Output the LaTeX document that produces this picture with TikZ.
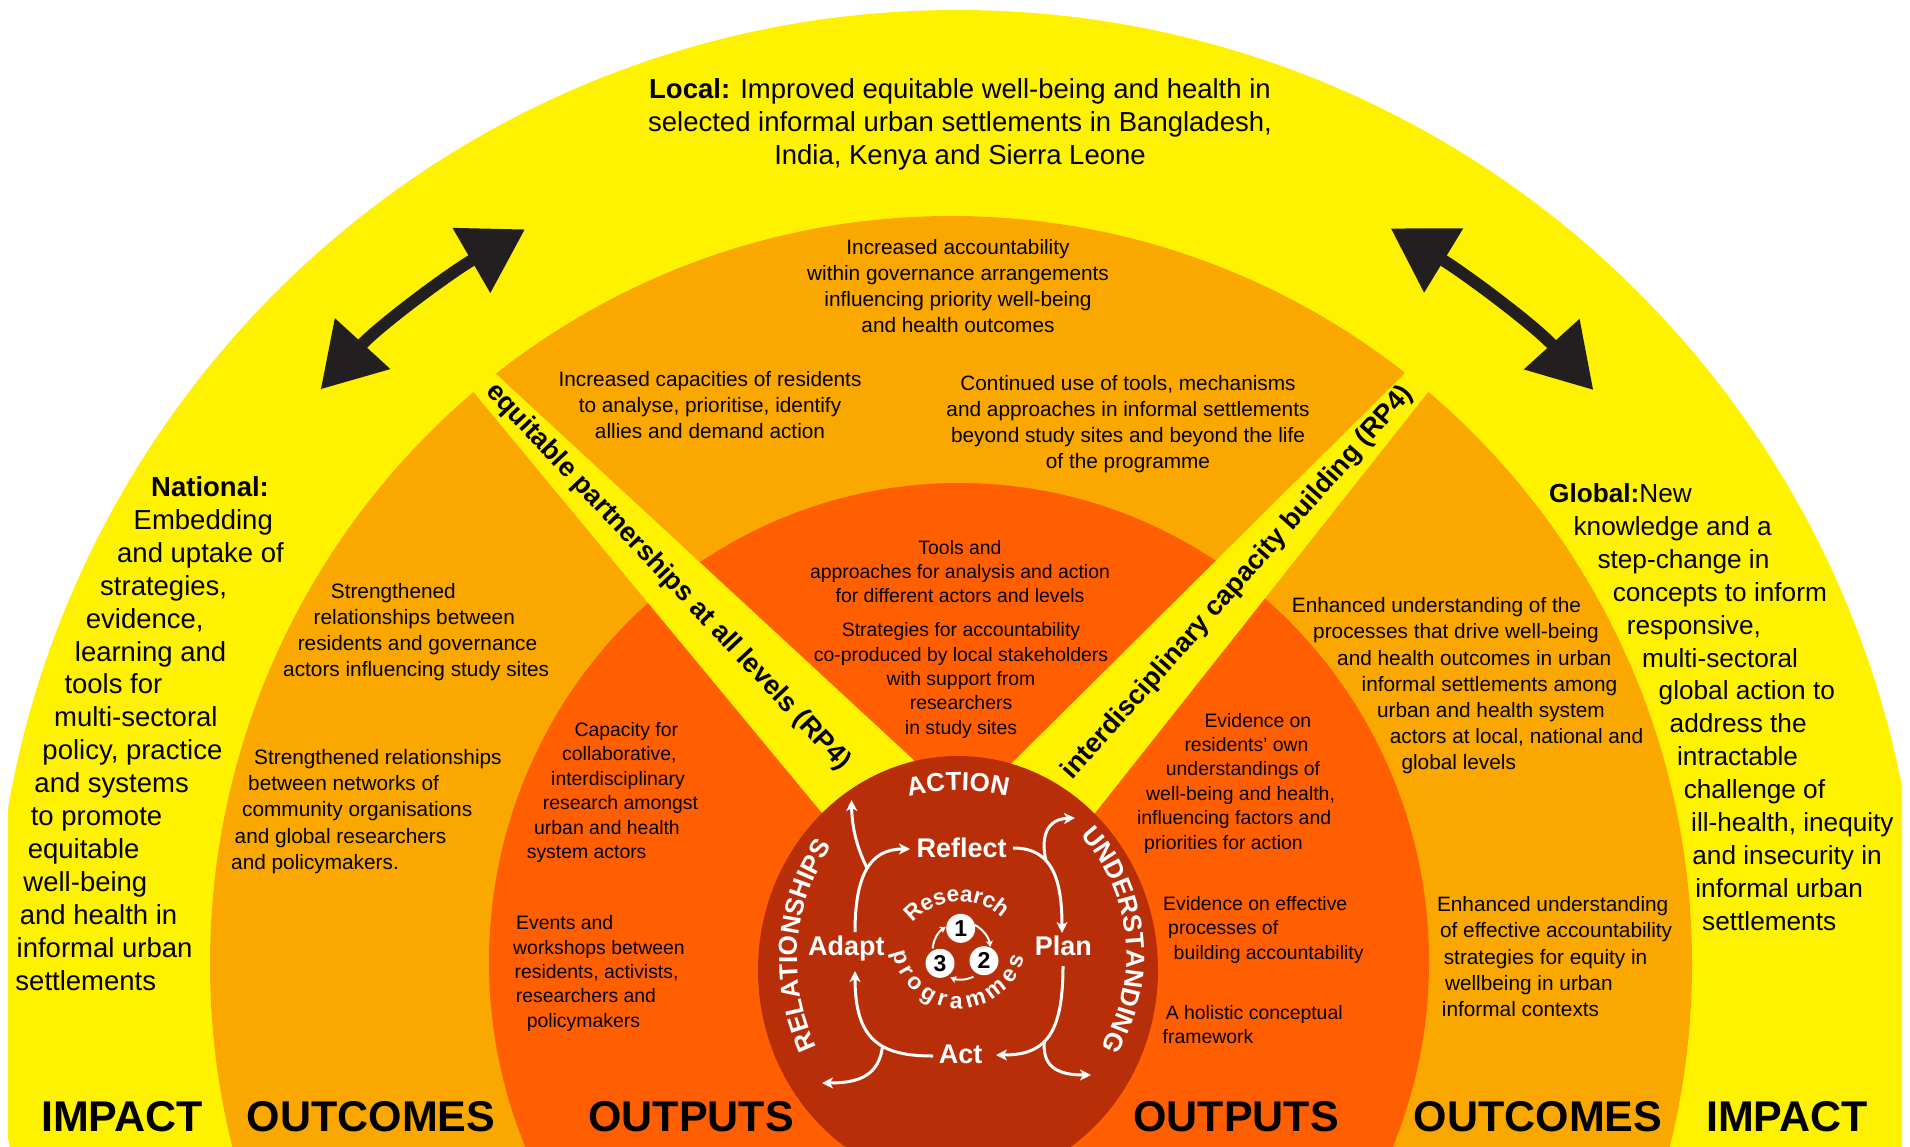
\documentclass[tikz,border=0pt]{standalone}
\usepackage{fontspec}
\setmainfont{Liberation Sans}
\usetikzlibrary{arrows.meta,decorations.text}
\definecolor{cyel}{RGB}{255,242,0}
\definecolor{cout}{RGB}{250,168,0}
\definecolor{cput}{RGB}{255,95,0}
\definecolor{ccore}{RGB}{183,46,8}
\definecolor{carr}{RGB}{35,31,32}
\tikzset{
  tbody/.style={font=\fontsize{20.8}{26.2}\selectfont, align=center, inner sep=0pt},
  tbodyl/.style={font=\fontsize{20.8}{26.2}\selectfont, align=left, inner sep=0pt, anchor=west},
  toutp/.style={font=\fontsize{19.4}{24.4}\selectfont, align=center, inner sep=0pt},
  toutpl/.style={font=\fontsize{19.4}{24.4}\selectfont, align=left, inner sep=0pt, anchor=west},
  tbig/.style={font=\fontsize{27.5}{32.9}\selectfont, inner sep=0pt},
  tbigr/.style={font=\fontsize{26.2}{32.9}\selectfont, inner sep=0pt},
  tsect/.style={font=\fontsize{43}{50}\selectfont\bfseries, inner sep=0pt, anchor=base},
  tcore/.style={font=\fontsize{27}{30}\selectfont\bfseries, text=white, inner sep=0pt, anchor=base},
  tinner/.style={font=\fontsize{23}{23}\selectfont\bfseries, text=white, inner sep=0pt, anchor=base},
  twedge/.style={font=\fontsize{27}{30}\selectfont\bfseries, inner sep=0pt},
  tnum/.style={circle, fill=white, inner sep=0pt, minimum size=29pt, font=\fontsize{23}{23}\selectfont\bfseries},
  bigarrow/.style={carr, line width=12pt, {Triangle[length=62pt,width=72pt]}-{Triangle[length=62pt,width=72pt]}},
  tcyc/.style={white, line width=3pt, -{Stealth[length=11pt,width=11pt,inset=3pt]}},
  smallcyc/.style={white, line width=2pt, -{Stealth[length=6pt,width=7pt,inset=1.5pt]}},
}
\begin{document}
\begin{tikzpicture}[x=1pt,y=-1pt]
\useasboundingbox (0,0) rectangle (1910,1146);
\begin{scope}
  \clip (0,0) rectangle (1910,1146);
  \fill[white] (0,0) rectangle (1910,1146);
  \begin{scope}
    \clip (8,0) rectangle (1902,1146);
    \fill[cyel] (957,973) circle[radius=963];
  \end{scope}
  \fill[cout] (951,964) ellipse[x radius=741, y radius=748];
  \fill[cput] (959,962) ellipse[x radius=470, y radius=479];
  \begin{scope}
    \clip (957,973) circle[radius=963];
    \fill[cyel] (337,227) -- (951.7,795.2) -- (860.9,860) -- cycle;
    \fill[cyel] (1582,197.5) -- (977.7,797) -- (1057.8,860) -- cycle;
  \end{scope}
  \fill[ccore] (958,970) ellipse[x radius=200, y radius=214];
\end{scope}

% big black double arrows
\coordinate (la1) at (320.7,389.3);
\coordinate (la2) at (525,229.3);
\draw[bigarrow] (la1) .. controls (379.5,325.2) and (449.8,273) .. (la2);
\coordinate (ra1) at (1390.7,228.3);
\coordinate (ra2) at (1593.3,390);
\draw[bigarrow] (ra1) .. controls (1464.2,273) and (1534.5,325.2) .. (ra2);

% impact texts
\node[tbig, align=center] (local) at (960,124) {\textbf{Local:} Improved equitable well-being and health in\\selected informal urban settlements in Bangladesh,\\India, Kenya and Sierra Leone};

\node[tbig, align=left, anchor=west] (national) at (15.3,733.5) {\hspace*{135.7pt}\textbf{National:}\\\hspace*{118.2pt}Embedding\\\hspace*{101.7pt}and uptake of\\\hspace*{84.7pt}strategies,\\\hspace*{70.4pt}evidence,\\\hspace*{59.4pt}learning and\\\hspace*{49pt}tools for\\\hspace*{38.6pt}multi-sectoral\\\hspace*{27pt}policy, practice\\\hspace*{19pt}and systems\\\hspace*{15.3pt}to promote\\\hspace*{12.3pt}equitable\\\hspace*{8pt}well-being\\\hspace*{4.3pt}and health in\\\hspace*{1.2pt}informal urban\\settlements};

\node[tbigr, align=left, anchor=west] (global) at (1548.9,707) {\textbf{Global:}New\\\hspace*{24.5pt}knowledge and a\\\hspace*{48.4pt}step-change in\\\hspace*{63.7pt}concepts to inform\\\hspace*{77.8pt}responsive,\\\hspace*{93.1pt}multi-sectoral\\\hspace*{109.6pt}global action to\\\hspace*{120.6pt}address the\\\hspace*{128pt}intractable\\\hspace*{134.7pt}challenge of\\\hspace*{142.1pt}ill-health, inequity\\\hspace*{143.3pt}and insecurity in\\\hspace*{146.3pt}informal urban\\\hspace*{153.1pt}settlements};

% outcomes texts
\node[tbody] (acc) at (958,286) {Increased accountability\\within governance arrangements\\influencing priority well-being\\and health outcomes};
\node[tbody] (capres) at (710,405) {Increased capacities of residents\\to analyse, prioritise, identify\\allies and demand action};
\node[tbody] (contuse) at (1128,424) {Continued use of tools, mechanisms\\and approaches in informal settlements\\beyond study sites and beyond the life\\of the programme};
\node[tbodyl] (strrel1) at (283,632) {\hspace*{47.7pt}Strengthened\\\hspace*{30.5pt}relationships between\\\hspace*{14.6pt}residents and governance\\actors influencing study sites};
\node[tbodyl] (strrel2) at (231,811.6) {\hspace*{23pt}Strengthened relationships\\\hspace*{17pt}between networks of\\\hspace*{11pt}community organisations\\\hspace*{3.5pt}and global researchers\\and policymakers.};
\node[tbodyl] (enh1) at (1291.7,686) {Enhanced understanding of the\\\hspace*{21.3pt}processes that drive well-being\\\hspace*{45.3pt}and health outcomes in urban\\\hspace*{69.8pt}informal settlements among\\\hspace*{85.1pt}urban and health system\\\hspace*{98pt}actors at local, national and\\\hspace*{109.6pt}global levels};
\node[tbodyl] (enh2) at (1436.8,956.7) {Enhanced understanding\\\hspace*{3.1pt}of effective accountability\\\hspace*{6.8pt}strategies for equity in\\\hspace*{8pt}wellbeing in urban\\\hspace*{4.9pt}informal contexts};

% outputs texts
\node[toutp] (tools) at (960,571.5) {Tools and\\approaches for analysis and action\\for different actors and levels};
\node[toutp] (strat) at (961,680.5) {Strategies for accountability\\co-produced by local stakeholders\\with support from\\researchers\\in study sites};
\node[toutpl] (capcol) at (526.6,792.5) {\hspace*{47.8pt}Capacity for\\\hspace*{35.4pt}collaborative,\\\hspace*{24.4pt}interdisciplinary\\\hspace*{16pt}research amongst\\\hspace*{7.4pt}urban and health\\system actors};
\node[toutpl] (events) at (513,973.5) {\hspace*{3pt}Events and\\workshops between\\\hspace*{1.4pt}residents, activists,\\\hspace*{2.6pt}researchers and\\\hspace*{13.6pt}policymakers};
\node[toutpl] (evid1) at (1136.8,783) {\hspace*{67.5pt}Evidence on\\\hspace*{47.5pt}residents’ own\\\hspace*{28.9pt}understandings of\\\hspace*{9.2pt}well-being and health,\\influencing factors and\\\hspace*{7.2pt}priorities for action};
\node[toutpl] (evid2) at (1163,929.7) {Evidence on effective\\\hspace*{5pt}processes of\\\hspace*{10.5pt}building accountability};
\node[toutpl] (holistic) at (1162.5,1024.3) {\hspace*{3.1pt}A holistic conceptual\\framework};

% wedge texts
\node[twedge, rotate=-46.8] (wedgel) at (668,577) {equitable partnerships at all levels (RP4)};
\node[twedge, rotate=48.5] (wedger) at (1238,583) {interdisciplinary capacity building (RP4)};

% section labels
\node[tsect] (impl) at (122,1131.7) {IMPACT};
\node[tsect] (outcl) at (371,1131.7) {OUTCOMES};
\node[tsect] (outpl) at (691,1131.7) {OUTPUTS};
\node[tsect] (outpr) at (1236,1131.7) {OUTPUTS};
\node[tsect] (outcr) at (1538,1131.7) {OUTCOMES};
\node[tsect] (impr) at (1787,1131.7) {IMPACT};

% core arc texts
\path[decorate, decoration={text along path, text color=white, text align=center,
  text={|\fontsize{26}{26}\selectfont\bfseries|ACTION}}]
  (854,818.6) arc[start angle=-120, end angle=-60, radius=208];
\path[decorate, decoration={text along path, text color=white, text align=center,
  text={|\fontsize{26}{26}\selectfont\bfseries|RELATIONSHIPS}}]
  (845.4,1090.8) arc[start angle=139.4, end angle=229.4, radius=201];
\path[decorate, decoration={text along path, text color=white, text align=center,
  text={|\fontsize{26}{26}\selectfont\bfseries|UNDERSTANDING}}]
  (1062.0,818.6) arc[start angle=-50.6, end angle=39.4, radius=176.5];

% core cycle labels
\node[tcore] (reflect) at (961.7,857.3) {Reflect};
\node[tcore] (adapt) at (846.3,955) {Adapt};
\node[tcore] (plan) at (1063.3,955) {Plan};
\node[tcore] (act) at (960.7,1063.3) {Act};

% cycle arrows
\coordinate (ar0) at (855,932);   \coordinate (ar1) at (910,849);
\draw[tcyc] (ar0) .. controls (855,875) and (870,849) .. (ar1);
\coordinate (br0) at (867.5,869); \coordinate (br1) at (851.5,800);
\draw[tcyc] (br0) .. controls (858,850) and (852,830) .. (br1);
\coordinate (rp0) at (1013,848);  \coordinate (rp1) at (1062,933);
\draw[tcyc] (rp0) .. controls (1050,848) and (1062,875) .. (rp1);
\coordinate (bp0) at (1046,861);  \coordinate (bp1) at (1075,818);
\draw[tcyc] (bp0) .. controls (1040,835) and (1048,819) .. (bp1);
\coordinate (pa0) at (1063,966);  \coordinate (pa1) at (996,1055);
\draw[tcyc] (pa0) .. controls (1063,1035) and (1045,1055) .. (pa1);
\coordinate (bq0) at (1044.4,1040.3); \coordinate (bq1) at (1091,1075);
\draw[tcyc] (bq0) .. controls (1042,1065) and (1055,1075) .. (bq1);
\coordinate (aa0) at (933,1056);  \coordinate (aa1) at (855,971);
\draw[tcyc] (aa0) .. controls (880,1056) and (855,1040) .. (aa1);
\coordinate (ba0) at (882.6,1045.9); \coordinate (ba1) at (822,1083);
\draw[tcyc] (ba0) .. controls (879,1075) and (860,1083) .. (ba1);

% inner research programmes
\foreach \ch/\ang [count=\k] in {R/-132.2,e/-119.0,s/-107.5,e/-96.0,a/-84.5,r/-74.75,c/-65.0,h/-52.9}
  \node[tinner, font=\fontsize{22.5}{22.5}\selectfont\bfseries, rotate={-90-(\ang)}] (res\k) at ([shift={(\ang:62)}]960,963.4) {\ch};
\foreach \ch/\ang [count=\k] in {p/164,r/150,o/136.1,g/119.9,r/106,a/92.5,m/74.2,m/52.7,e/34.4,s/19.3}
  \node[tinner, rotate={90-(\ang)}] (prg\k) at ([shift={(\ang:67.5)}]959,941) {\ch};

\draw[smallcyc] ([shift={(-62:29.5)}]961,951) arc[start angle=-62, end angle=-8, radius=29.5];
\draw[smallcyc] ([shift={(64:28.5)}]961,951) arc[start angle=64, end angle=112, radius=28.5];
\draw[smallcyc] ([shift={(185:28.5)}]961,951) arc[start angle=185, end angle=238, radius=28.5];
\node[tnum] (num1) at (960.7,928.3) {1};
\node[tnum] (num2) at (984,960.7) {2};
\node[tnum] (num3) at (940,963.3) {3};
\end{tikzpicture}
\end{document}
